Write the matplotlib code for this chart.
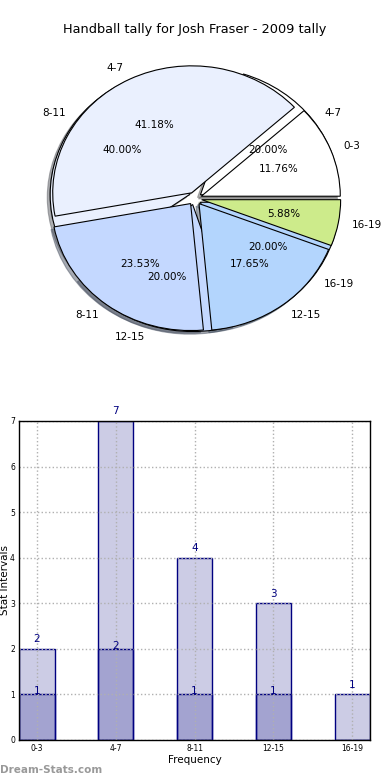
import matplotlib

matplotlib.use('Agg')

import matplotlib.pyplot as plt
import numpy as np

# data
intervals = ['0-3', '4-7', '8-11', '12-15', '16-19']
totals = [2, 7, 4, 3, 1]
second = [1, 2, 1, 1, 0]
# the second pie in the original carries shifted labels
second_pie_vals = [1, 2, 1, 1]
second_pie_labels = ['4-7', '8-11', '12-15', '16-19']
pie_colors = ['#ffffff', '#eaf0fe', '#c4d8ff', '#b3d5fd', '#cdeb8b']

fig = plt.figure(figsize=(3.9, 7.8), dpi=100)
fs = 7.5

fig.text(0.5, 1 - 30 / 780, 'Handball tally for Josh Fraser - 2009 tally',
         ha='center', va='center', fontsize=9.3)

# pies
shadow = dict(ox=-0.015, oy=-0.015, shade=0.6)
ax = fig.add_axes([0.054, 0.542, 0.891, 0.407])
ax.pie(second_pie_vals, labels=second_pie_labels, colors=pie_colors[:4],
       explode=[0.05] * 4, autopct='%1.2f%%', shadow=shadow,
       wedgeprops=dict(edgecolor='black', linewidth=0.8),
       textprops=dict(fontsize=fs))
ax.pie(totals, labels=intervals, colors=pie_colors,
       explode=[0.05] * 5, autopct='%1.2f%%', shadow=shadow,
       wedgeprops=dict(edgecolor='black', linewidth=0.8),
       textprops=dict(fontsize=fs))
ax.set_aspect('auto')
ax.set_xlim(-1.25, 1.25)
ax.set_ylim(-1.25, 1.25)

# bars
bx = fig.add_axes([0.049, 0.0513, 0.9, 0.409])
x = np.arange(len(intervals))
w = 0.45
face = (0, 0, 0.5, 0.2)
bx.bar(x, totals, w, facecolor=face, edgecolor='navy', linewidth=1, zorder=1)
bx.bar(x, second, w, facecolor=face, edgecolor='navy', linewidth=1, zorder=1)
for xi, h in zip(x, totals):
    bx.text(xi, h + 0.1, str(h), ha='center', va='bottom', color='navy', fontsize=fs)
for xi, h in zip(x, second):
    if h > 0:
        bx.text(xi, h - 0.04, str(h), ha='center', va='bottom', color='navy', fontsize=fs)

bx.set_xlim(-w / 2, len(intervals) - 1 + w / 2)
bx.set_ylim(0, 7)
bx.set_xticks(x)
bx.set_xticklabels(intervals)
bx.set_yticks(range(8))
bx.tick_params(labelsize=5.5, length=0, pad=3)
bx.set_axisbelow('line')
bx.grid(True, linestyle=':', color='#b0b0b0', linewidth=1)
for s in bx.spines.values():
    s.set_linewidth(1)
bx.set_xlabel('Frequency', fontsize=fs, labelpad=1)
fig.text(0.014, 1 - 580 / 780, 'Stat Intervals', rotation=90,
         ha='center', va='center', fontsize=fs)

fig.text(0.0, 1 - 770 / 780, 'Dream-Stats.com', ha='left', va='center',
         color='#999999', fontweight='bold', fontsize=7.5)

plt.savefig('out.png', dpi=100)
plt.close()
